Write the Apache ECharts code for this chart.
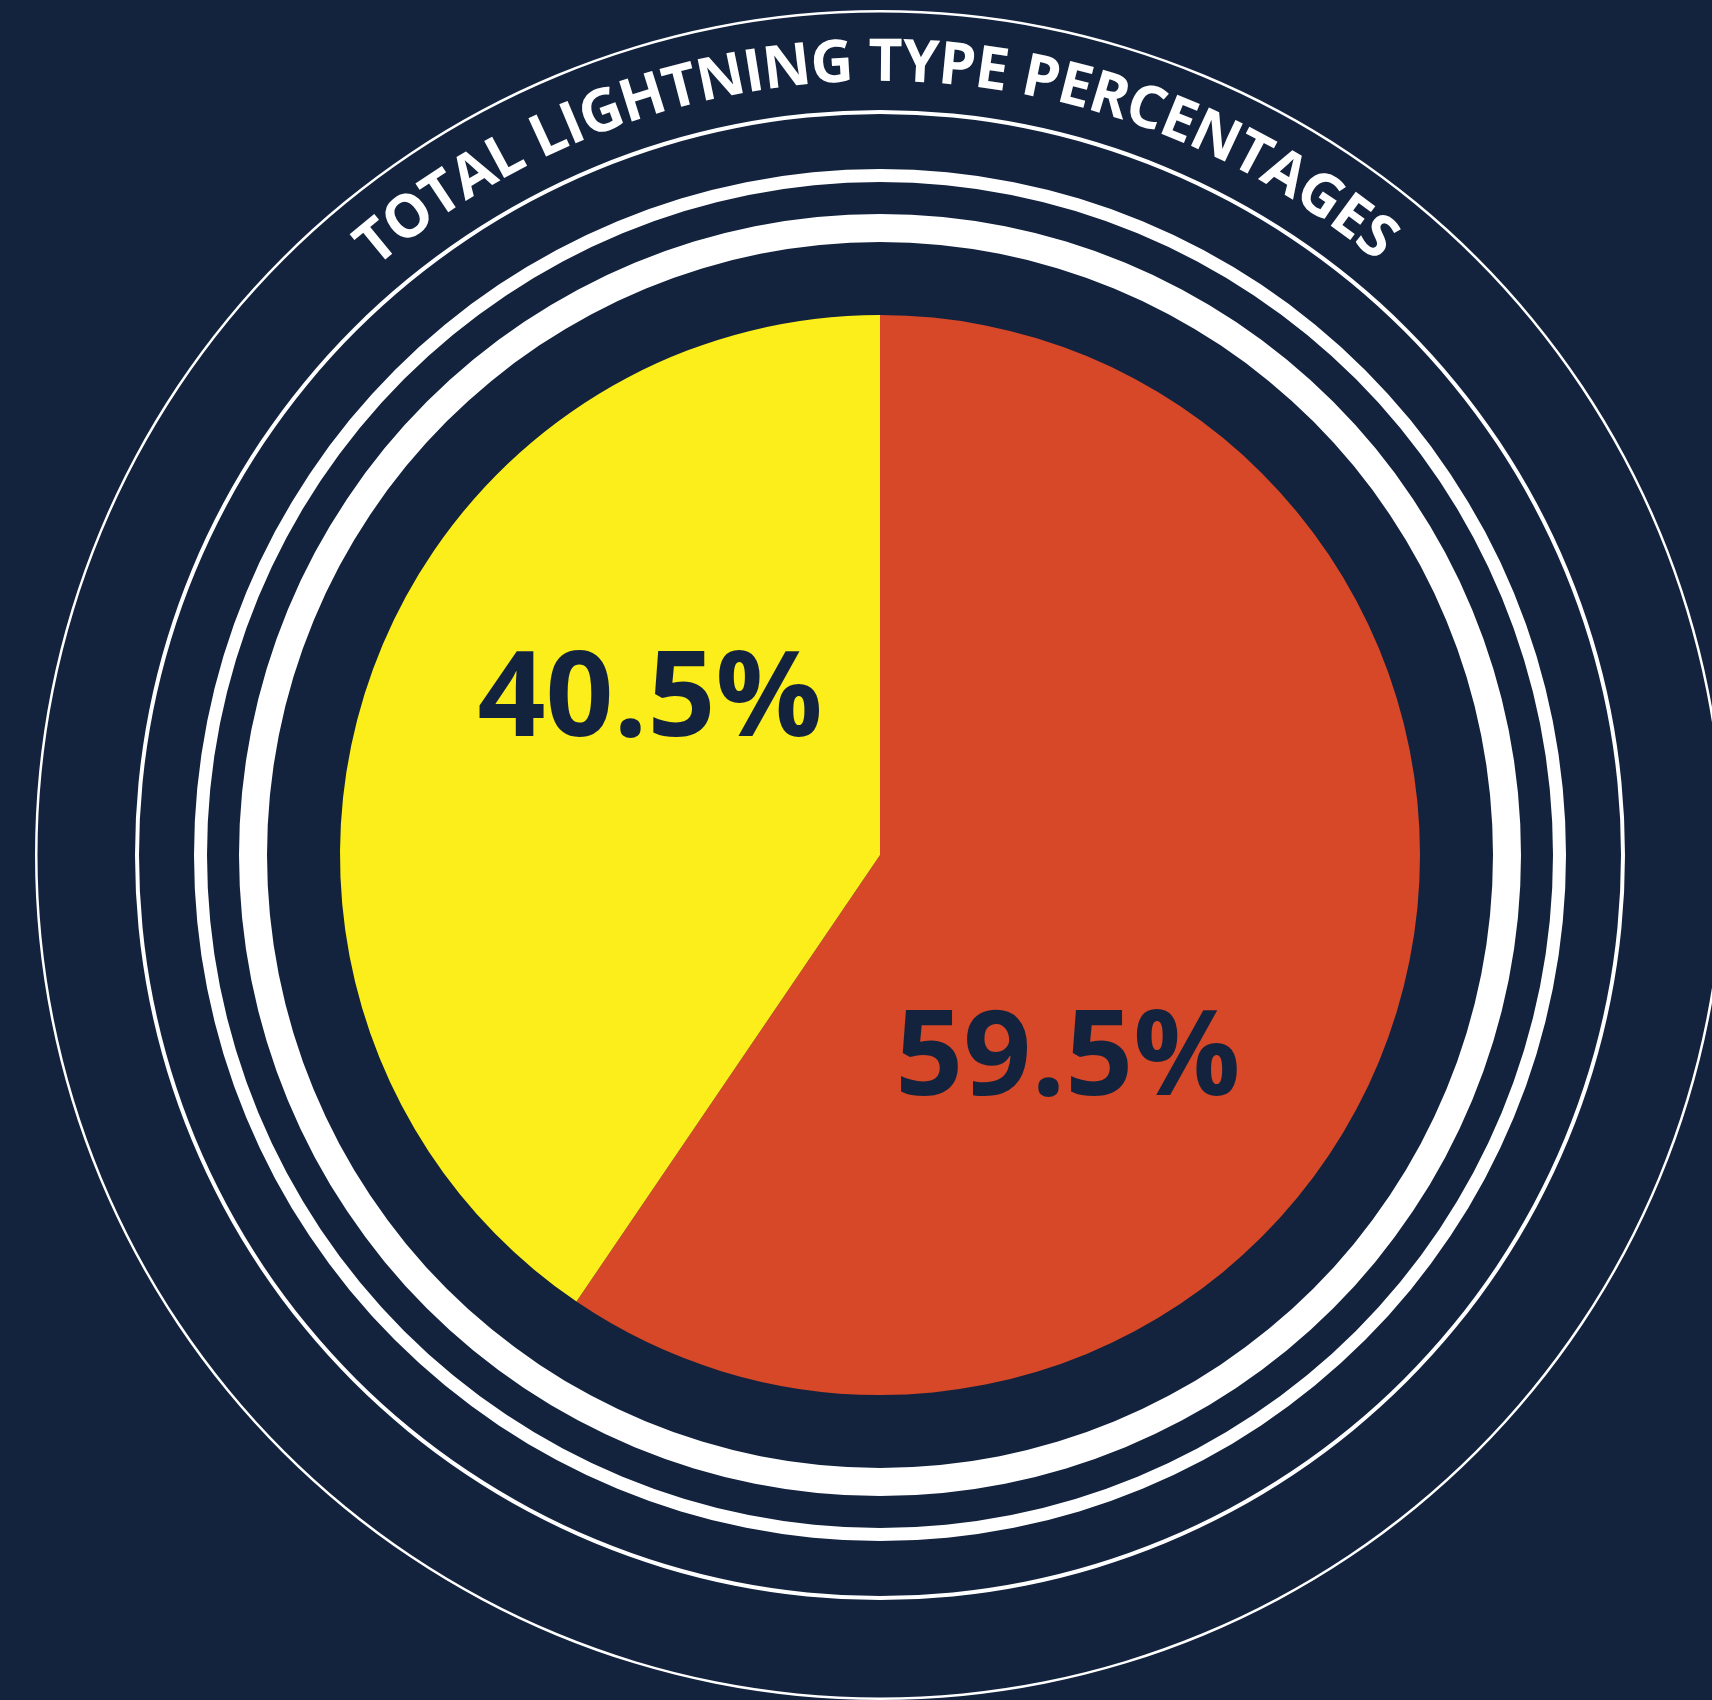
<!DOCTYPE html>
<html>
<head>
<meta charset="utf-8">
<script src="https://cdn.jsdelivr.net/npm/echarts@6/dist/echarts.min.js"></script>
<style>
html, body { margin: 0; padding: 0; background: #13233e; }
#chart { width: 1712px; height: 1700px; }
</style>
</head>
<body>
<div id="chart"></div>
<script>
// ---- data ----
const categories = ['Type A', 'Type B'];
const values = [59.5, 40.5];
const titleText = 'TOTAL LIGHTNING TYPE PERCENTAGES';

// ---- styles / layout ----
const NAVY = '#13233e';
const sliceColors = ['#d64828', '#fbee1a'];
const labelOffsets = [[-73, 126], [31, -73]];
const CX = 880, CY = 855, PIE_R = 540;
const rings = [[613, 641], [673, 686], [741, 745], [842.5, 845]];
const TITLE_R = 791;
const TITLE_START = -39.4, TITLE_END = 38.8; // degrees of first/last char centers
const titleFont = 'bold 59px "Open Sans"';

const chart = echarts.init(document.getElementById('chart'), null, { renderer: 'canvas' });

// rings
const graphics = rings.map(([r0, r]) => ({
  type: 'ring', silent: true,
  shape: { cx: CX, cy: CY, r: r, r0: r0 },
  style: { fill: '#ffffff' }
}));

// curved title
const ctx = document.createElement('canvas').getContext('2d');
ctx.font = titleFont;
const chars = titleText.split('');
const widths = chars.map(c => ctx.measureText(c).width);
const baseLen = widths.reduce((a, b) => a + b, 0) - widths[0] / 2 - widths[widths.length - 1] / 2;
const targetArc = TITLE_R * (TITLE_END - TITLE_START) * Math.PI / 180;
const extra = (targetArc - baseLen) / (chars.length - 1);
let arcPos = 0;
chars.forEach((c, i) => {
  if (i > 0) arcPos += widths[i - 1] / 2 + widths[i] / 2 + extra;
  const ang = (TITLE_START * Math.PI / 180) + arcPos / TITLE_R;
  if (c === ' ') return;
  graphics.push({
    type: 'text', silent: true,
    x: CX + TITLE_R * Math.sin(ang),
    y: CY - TITLE_R * Math.cos(ang),
    rotation: -ang,
    style: {
      text: c, font: titleFont, fill: '#ffffff',
      align: 'center', verticalAlign: 'middle'
    }
  });
});

const pieData = categories.map((name, i) => ({
  name: name,
  value: values[i],
  itemStyle: { color: sliceColors[i] },
  label: { offset: labelOffsets[i] }
}));

chart.setOption({
  backgroundColor: NAVY,
  animation: false,
  graphic: graphics,
  series: [{
    type: 'pie',
    center: [CX, CY],
    radius: [0, PIE_R],
    startAngle: 90,
    clockwise: true,
    silent: true,
    avoidLabelOverlap: false,
    itemStyle: { borderWidth: 0 },
    label: {
      show: true,
      position: 'inside',
      formatter: p => p.value.toFixed(1) + '%',
      color: NAVY,
      fontFamily: 'Open Sans',
      fontWeight: 700,
      fontSize: 119
    },
    labelLine: { show: false },
    data: pieData
  }]
});
</script>
</body>
</html>
